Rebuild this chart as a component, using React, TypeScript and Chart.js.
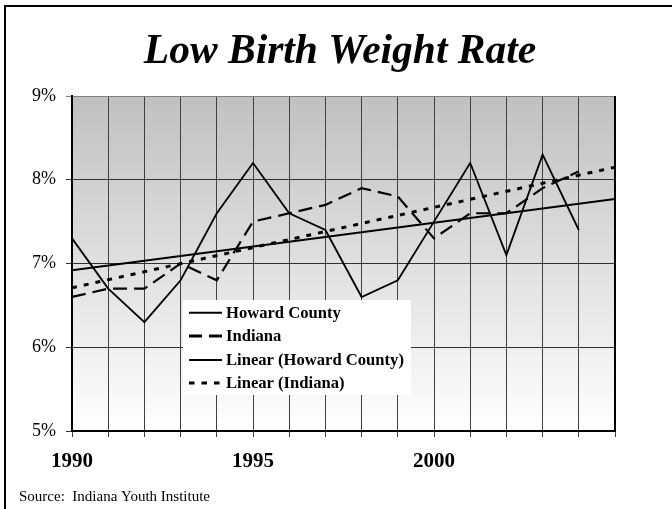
import React, { useEffect, useRef } from "react";
import { Chart, registerables } from "chart.js";

Chart.register(...registerables);

const years = [1990, 1991, 1992, 1993, 1994, 1995, 1996, 1997, 1998, 1999, 2000, 2001, 2002, 2003, 2004];
const howardCounty = [7.3, 6.7, 6.3, 6.8, 7.6, 8.2, 7.6, 7.4, 6.6, 6.8, 7.5, 8.2, 7.1, 8.3, 7.4];
const indiana = [6.6, 6.7, 6.7, 7.0, 6.8, 7.5, 7.6, 7.7, 7.9, 7.8, 7.3, 7.6, 7.6, 7.9, 8.1];
const trendYears = [1990, 2005];
const linearHoward = [6.92, 7.77];
const linearIndiana = [6.71, 8.15];
const xLabels = ["1990", "1995", "2000"];
const yTicks = [5, 6, 7, 8, 9];

const SERIF = "'Liberation Serif', 'Times New Roman', serif";

const seriesStyles = [
  { label: "Howard County", width: 1.8, dash: [] as number[], legendWidth: 2, legendDash: [] as number[] },
  { label: "Indiana", width: 2.2, dash: [14, 7], legendWidth: 3, legendDash: [13, 7] },
  { label: "Linear (Howard County)", width: 2, dash: [] as number[], legendWidth: 2, legendDash: [] as number[] },
  { label: "Linear (Indiana)", width: 3, dash: [5, 7], legendWidth: 3, legendDash: [5.5, 7] },
];

const decorPlugin = {
  id: "decor",
  beforeDraw(chart: any) {
    const { ctx, chartArea: a } = chart;
    ctx.save();
    ctx.fillStyle = "#ffffff";
    ctx.fillRect(0, 0, chart.width, chart.height);
    const g = ctx.createLinearGradient(0, a.top, 0, a.bottom);
    g.addColorStop(0, "#c0c0c0");
    g.addColorStop(1, "#ffffff");
    ctx.fillStyle = g;
    ctx.fillRect(a.left, a.top, a.right - a.left, a.bottom - a.top);
    ctx.restore();
  },
  afterDraw(chart: any) {
    const { ctx, chartArea: a } = chart;
    ctx.save();
    // outer frame
    ctx.fillStyle = "#000000";
    ctx.fillRect(4, 5, chart.width, 2);
    ctx.fillRect(4, 5, 2, chart.height);
    // right plot border
    ctx.fillRect(a.right - 1, a.top, 2, a.bottom - a.top + 1);
    // title
    ctx.fillStyle = "#000000";
    ctx.font = `italic bold 41.5px ${SERIF}`;
    ctx.textAlign = "center";
    ctx.textBaseline = "alphabetic";
    ctx.fillText("Low Birth Weight Rate", 340, 63);
    // source
    ctx.font = `15px ${SERIF}`;
    ctx.textAlign = "left";
    ctx.fillText("Source:  Indiana Youth Institute", 19, 501);
    // legend
    const lx = a.left + 111;
    const ly = a.top + 204;
    ctx.fillStyle = "#ffffff";
    ctx.fillRect(lx, ly, 228, 95);
    ctx.font = `bold 16.6px ${SERIF}`;
    ctx.textBaseline = "middle";
    const rows = [216.7, 240, 264, 287];
    chart.data.datasets.forEach((ds: any, i: number) => {
      const st = seriesStyles[i];
      const y = a.top + rows[i];
      ctx.strokeStyle = "#000000";
      ctx.lineWidth = st.legendWidth;
      ctx.setLineDash(st.legendDash);
      ctx.lineCap = "butt";
      ctx.beginPath();
      ctx.moveTo(lx + 6, y);
      ctx.lineTo(lx + 39, y);
      ctx.stroke();
      ctx.setLineDash([]);
      ctx.fillStyle = "#000000";
      ctx.fillText(ds.label, lx + 43, y + 1);
    });
    ctx.restore();
  },
};

export default function App() {
  const ref = useRef<HTMLCanvasElement | null>(null);
  useEffect(() => {
    if (!ref.current) return;
    const toPts = (xs: number[], ys: number[]) => xs.map((x, i) => ({ x, y: ys[i] }));
    const chart = new Chart(ref.current, {
      type: "line",
      data: {
        datasets: [
          { label: seriesStyles[0].label, data: toPts(years, howardCounty), borderColor: "#000", borderWidth: seriesStyles[0].width, borderDash: seriesStyles[0].dash, pointRadius: 0, tension: 0, fill: false },
          { label: seriesStyles[1].label, data: toPts(years, indiana), borderColor: "#000", borderWidth: seriesStyles[1].width, borderDash: seriesStyles[1].dash, pointRadius: 0, tension: 0, fill: false },
          { label: seriesStyles[2].label, data: toPts(trendYears, linearHoward), borderColor: "#000", borderWidth: seriesStyles[2].width, borderDash: seriesStyles[2].dash, pointRadius: 0, tension: 0, fill: false },
          { label: seriesStyles[3].label, data: toPts(trendYears, linearIndiana), borderColor: "#000", borderWidth: seriesStyles[3].width, borderDash: seriesStyles[3].dash, pointRadius: 0, tension: 0, fill: false },
        ],
      },
      options: {
        responsive: false,
        animation: false,
        layout: { padding: { top: 96, left: 0, right: 57, bottom: 0 } },
        plugins: { legend: { display: false }, tooltip: { enabled: false }, title: { display: false } },
        scales: {
          x: {
            type: "linear",
            min: 1990,
            max: 2005,
            afterFit: (s: any) => { s.height = 78; },
            grid: { color: "#404040", lineWidth: 1, tickLength: 6, drawTicks: true },
            border: { color: "#000", width: 2 },
            ticks: {
              stepSize: 1,
              autoSkip: false,
              maxRotation: 0,
              padding: 12,
              color: "#000",
              font: { family: SERIF, size: 21, weight: "bold" },
              callback: (v: any) => (xLabels.includes(String(v)) ? String(v) : ""),
            },
          },
          y: {
            min: yTicks[0],
            max: yTicks[yTicks.length - 1],
            afterFit: (s: any) => { s.width = 72; },
            grid: {
              color: (c: any) => (c.tick && c.tick.value === 9 ? "#808080" : "#303030"),
              lineWidth: 1,
              tickLength: 6,
            },
            border: { color: "#000", width: 2 },
            ticks: {
              stepSize: 1,
              padding: 10,
              color: "#000",
              font: { family: SERIF, size: 18 },
              callback: (v: any) => `${v}%`,
            },
          },
        },
      },
      plugins: [decorPlugin],
    });
    return () => chart.destroy();
  }, []);
  return (
    <div style={{ position: "absolute", left: 0, top: 0, width: 672, height: 509, overflow: "hidden" }}>
      <canvas ref={ref} width={672} height={509} style={{ display: "block", width: 672, height: 509 }} />
    </div>
  );
}
